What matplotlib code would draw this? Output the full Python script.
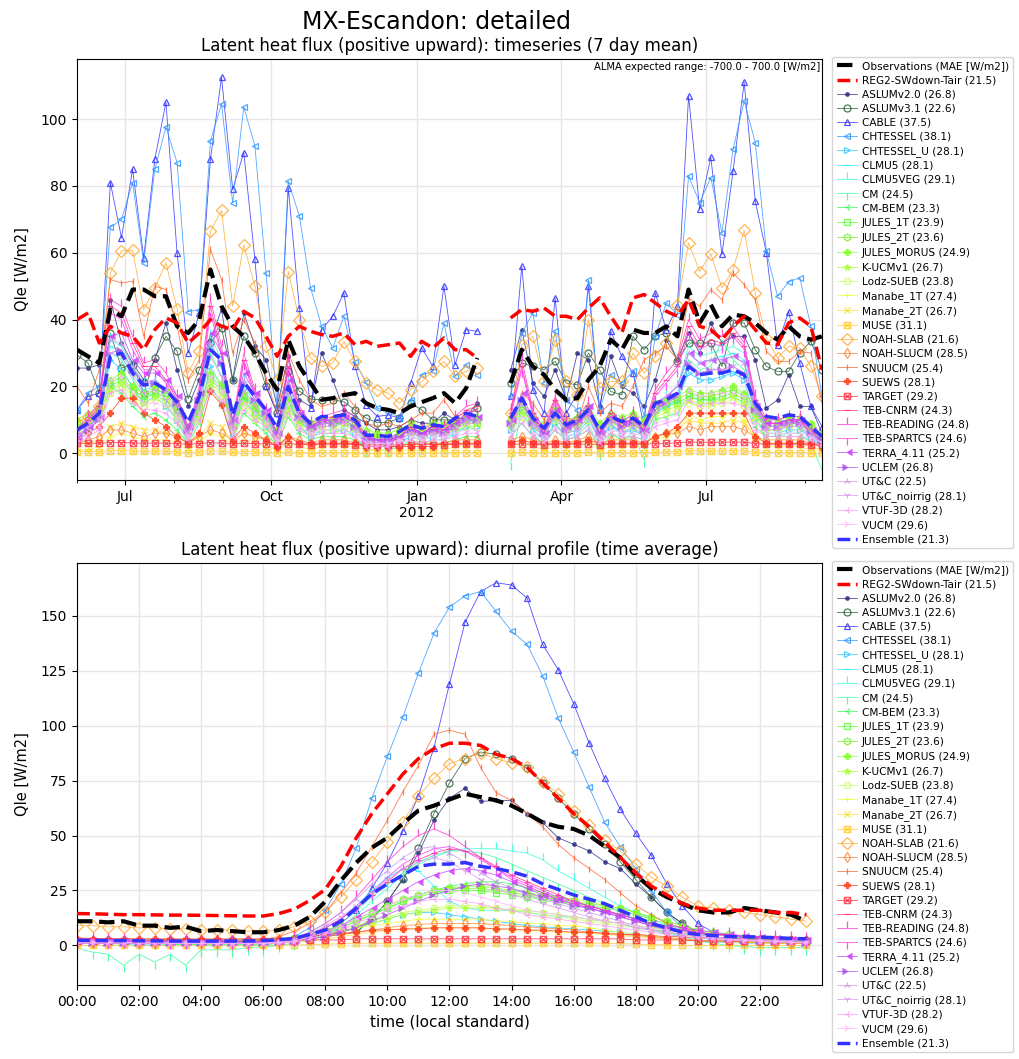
import numpy as np
import pandas as pd
import matplotlib
matplotlib.use("Agg")
from matplotlib import pyplot as plt
import matplotlib.dates as mdates
from matplotlib.path import Path
from matplotlib.ticker import FuncFormatter, MultipleLocator

# weekly means, 2011-06-01 .. 2012-09-12 (two weeks missing in Feb 2012)
weeks = pd.date_range('2011-06-01', periods=68, freq='7D')
GAP = 37
# half-hourly diurnal profile
hours = np.arange(48) / 2.0

# ---- timeseries (7 day mean), 66 values each: 37 before the gap, 29 after ----
obs_week = [31, 29, 27, 43, 41, 49, 49, 47, 47, 38,
            36, 40, 55, 44, 38, 35, 30, 24, 19, 34,
            26, 21, 16, 16.5, 17.4, 18, 15, 13.5, 13, 12,
            14, 15.3, 16.5, 18, 15, 19.5, 28.5,
            21, 31, 26, 23.5, 19, 16, 16.5, 22, 26, 34,
            31, 37, 36, 36, 38, 35, 49, 39, 44.5, 38,
            41.5, 41, 39, 36, 34, 38, 35, 34, 35]
reg2_week = [40, 42, 33, 38, 36, 35, 31, 37, 40.5, 39,
             33, 36, 40, 38, 37, 42.5, 40.5, 35, 29, 35,
             38, 36.5, 35.5, 35, 36, 32.5, 33.5, 32, 32.5, 33,
             29, 33.5, 31.5, 34.5, 31, 31, 28.5,
             40.5, 43, 42.5, 43.5, 41, 41, 40, 43.5, 46.5, 41,
             36, 46.5, 47.5, 45, 42.5, 41, 46, 38, 37, 34,
             38, 41, 37, 33, 32.5, 39, 40.5, 38, 25]
ens_week = [7, 9, 12, 29, 30, 24, 20.4, 21, 19, 15.3,
            9.3, 17, 31, 28, 11.4, 21.3, 17, 13, 7.5, 20,
            12, 9, 11, 11, 11.5, 10, 5.4, 5.4, 5, 6.5,
            8.5, 7.5, 8.5, 8, 10.5, 12, 11,
            10.5, 16.5, 10.5, 7.5, 12, 8.5, 10, 13, 7, 11,
            9.5, 10.5, 8, 15, 16, 18, 26, 23.5, 24, 24,
            25, 23.5, 15, 11, 10.5, 11.5, 11, 8, 5]
aslum2_week = [25.5, 25.5, 26.5, 46, 33, 27, 22, 28, 39, 25,
               14, 22, 34, 43, 22, 42, 32, 28, 14, 29,
               16, 14, 30, 22, 13, 11, 9, 7, 7, 8,
               10, 9, 9, 12, 10, 11, 15,
               25, 37, 21, 17, 25, 16, 30, 28, 14, 29,
               20, 18, 14, 22, 34, 28, 36, 30, 39, 33,
               35, 35, 28, 13.5, 16, 23.5, 14, 14, 6]
aslum3_week = [29.4, 27, 18, 36, 25.5, 26.5, 18, 28.6, 35, 30.5,
               16.3, 25, 33, 37.4, 22, 35, 30, 20, 12, 24.5,
               18.6, 16.2, 16, 16, 15.4, 13, 10.5, 9.2, 9.2, 10.5,
               15, 13, 10, 10, 10, 11, 13.5,
               21, 27, 26, 25, 27.5, 21, 20.5, 30, 25, 18.5,
               17.5, 35, 31, 35, 36, 27.5, 33, 33, 33, 26,
               39, 39, 31, 26, 24.5, 24.5, 30, 33.5, 25]
cable_week = [13, 17, 18, 81, 64.5, 85, 58.5, 88, 105, 60,
              30, 42, 88, 112.5, 79, 90, 58, 20, 12, 79.5,
              43.5, 13.5, 37, 41, 48, 26, 14.5, 11, 11.5, 10.5,
              21, 31.5, 26, 50, 26.5, 37, 36.5,
              17, 56, 19, 12, 46.5, 12, 18, 50, 13, 36.5,
              29, 24, 8, 48, 37, 44, 107, 73, 88.6, 59.5,
              84.4, 111, 75.4, 60, 32.4, 42.4, 27, 14, 8]
chtessel_week = [13, 18, 20, 67.6, 70, 81, 57, 85, 97.6, 87,
                 42.4, 43, 93.5, 104.5, 75, 103.6, 92, 54, 14, 81.4,
                 71, 49.6, 38, 31.5, 41, 27.4, 21.3, 13.5, 12.5, 10.7,
                 16, 23.4, 24.5, 39, 23, 26.5, 23.5,
                 17, 36, 42, 21, 36.5, 16, 13, 52, 13, 23.5,
                 21, 24.5, 11, 35, 45, 41.5, 83, 75, 82.5, 66,
                 91, 105.4, 93, 60.4, 47, 51.3, 52.5, 38, 17]
chtessel_u_week = [5, 8, 11, 28, 25, 20, 15, 17, 14, 10,
                   4, 12, 26, 20, 6, 16, 12, 8, 3, 16,
                   8, 5, 7, 7, 7, 6, 3, 3, 2, 3,
                   5, 4, 5, 5, 6, 8, 8,
                   7, 12, 7, 4, 9, 5, 6, 10, 4, 8,
                   6, 7, 5, 12, 14, 16, 24, 22, 22, 23,
                   24, 22, 10, 6, 6, 7, 7, 5, 2]
clmu5_week = [6, 9, 12, 32, 30, 24, 19, 20, 17, 12,
              5, 15, 33, 26, 7, 20, 15, 11, 4, 19,
              10, 7, 8, 8, 9, 7, 3, 3, 3, 4,
              6, 5, 6, 6, 8, 10, 9,
              8, 15, 8, 5, 11, 6, 7, 11, 4, 9,
              6, 8, 5, 14, 16, 18, 30, 27, 28, 29,
              30, 28, 13, 7, 7, 8, 8, 5, 1]
clmu5veg_week = [7, 10, 13, 34, 32, 26, 21, 22, 19, 14,
                 6, 17, 35, 28, 8, 22, 17, 12, 5, 21,
                 11, 8, 9, 9, 10, 8, 4, 3, 3, 4,
                 6, 5, 6, 6, 8, 10, 10,
                 9, 16, 9, 5, 12, 7, 8, 12, 5, 10,
                 7, 9, 6, 15, 17, 20, 32, 29, 30, 31,
                 32, 30, 14, 8, 8, 9, 9, 6, 2]
cm_week = [6, 9, 12, 30, 28, 22, 17, 18, 15, 10,
           3, 13, 30, 23, 5, 18, 13, 9, 2, 17,
           8, 5, 6, 6, 7, 5, 1, 1, 1, 2,
           4, 3, 4, 4, 6, 8, 7,
           -3, 13, 6, 2, 9, 4, 5, 9, 0, 6,
           4, 6, -2, 12, 14, 16, 28, 25, 26, 34,
           28, 25, 11, 5, 5, 6, 6, 3, -5]
cmbem_week = [4, 6, 8, 20, 18, 14, 11, 12, 10, 7,
              3, 9, 20, 15, 4, 12, 9, 6, 2, 11,
              6, 4, 5, 5, 5, 4, 2, 2, 2, 2,
              3, 3, 3, 3, 4, 5, 5,
              5, 9, 5, 3, 7, 4, 5, 7, 3, 6,
              4, 5, 4, 10, 11, 12, 17, 16, 16, 16,
              17, 15, 8, 5, 5, 5, 5, 4, 2]
jules1_week = [8, 10, 12, 20, 22, 18, 16, 18, 17, 12,
               6, 12, 22, 19, 8, 16, 12, 9, 5, 14,
               9, 7, 9, 9, 9, 8, 5, 4, 4, 5,
               7, 6, 7, 7, 8, 9, 9,
               9, 13, 9, 7, 11, 8, 9, 12, 7, 10,
               9, 10, 8, 13, 14, 15, 17, 16, 16, 17,
               18, 16, 12, 8, 8, 9, 9, 7, 4]
jules2_week = [9, 11, 13, 21, 23, 19, 17, 19, 18, 13,
               7, 13, 23, 20, 9, 17, 13, 10, 6, 15,
               10, 8, 10, 10, 10, 9, 6, 5, 5, 6,
               8, 7, 8, 8, 9, 10, 10,
               10, 14, 10, 8, 12, 9, 10, 13, 8, 11,
               10, 11, 9, 14, 15, 16, 18, 17, 17, 18,
               19, 17, 13, 9, 9, 10, 10, 8, 5]
morus_week = [10, 12, 14, 22, 24, 20, 18, 20, 19, 14,
              8, 14, 24, 21, 10, 18, 14, 11, 7, 16,
              11, 9, 10, 10, 11, 10, 7, 6, 6, 7,
              9, 8, 9, 9, 10, 11, 11,
              11, 15, 11, 9, 13, 10, 11, 14, 9, 12,
              11, 12, 10, 15, 16, 17, 19, 18, 18, 19,
              20, 18, 14, 10, 10, 11, 11, 9, 6]
kucm_week = [8, 10, 12, 19, 21, 17, 15, 17, 16, 11,
             6, 11, 21, 18, 8, 15, 11, 9, 5, 13,
             9, 7, 8, 8, 9, 8, 5, 4, 4, 5,
             7, 6, 7, 7, 8, 9, 9,
             9, 12, 9, 7, 11, 8, 9, 11, 7, 10,
             9, 9, 8, 12, 13, 14, 16, 15, 15, 16,
             17, 15, 11, 8, 8, 9, 9, 7, 4]
lodz_week = [7, 9, 11, 18, 20, 16, 14, 16, 15, 10,
             5, 10, 20, 17, 7, 14, 10, 8, 4, 12,
             8, 6, 7, 7, 8, 7, 4, 3, 3, 4,
             6, 5, 6, 6, 7, 8, 8,
             8, 11, 8, 6, 10, 7, 8, 10, 6, 9,
             8, 8, 7, 11, 12, 13, 15, 14, 14, 15,
             16, 14, 10, 7, 7, 8, 8, 6, 3]
manabe1_week = [1, 1, 2, 5, 6, 5, 4, 4, 4, 3,
                1, 3, 6, 5, 2, 4, 3, 2, 1, 3,
                2, 1, 2, 2, 2, 2, 1, 1, 1, 1,
                1, 1, 1, 1, 2, 2, 2,
                2, 3, 2, 1, 2, 2, 2, 3, 1, 2,
                2, 2, 2, 4, 5, 6, 12, 10, 11, 11,
                12, 10, 4, 2, 2, 2, 2, 1, 1]
manabe2_week = [3, 3, 4, 8, 9, 8, 7, 7, 6, 5,
                3, 5, 9, 8, 3, 6, 5, 4, 2, 5,
                3, 2, 3, 3, 3, 3, 2, 2, 2, 2,
                2, 2, 2, 2, 3, 3, 3,
                3, 4, 3, 2, 3, 3, 3, 4, 2, 3,
                3, 3, 3, 5, 6, 7, 10, 9, 9, 9,
                10, 9, 5, 3, 3, 3, 3, 2, 1]
muse_week = [0.5, 0.5, 0.5, 0.8, 0.8, 0.7, 0.6, 0.7, 0.6, 0.4,
             0.2, 0.5, 0.8, 0.6, 0.3, 0.5, 0.4, 0.3, 0.1, 0.4,
             0.2, 0.1, 0.2, 0.2, 0.2, 0.1, 0, 0, 0, 0,
             0.1, 0.1, 0.1, 0.1, 0.2, 0.2, 0.2,
             0.2, 0.3, 0.2, 0.1, 0.2, 0.2, 0.2, 0.3, 0.1, 0.2,
             0.2, 0.2, 0.2, 0.3, 0.4, 0.5, 0.8, 0.7, 0.7, 0.7,
             0.8, 0.7, 0.4, 0.2, 0.2, 0.2, 0.2, 0.1, 0]
noahslab_week = [9, 11, 14, 54, 60.6, 60.7, 43, 49.5, 57, 43.3,
                 24, 30.5, 66.5, 72.7, 44, 62.4, 50, 32, 22, 54.4,
                 40, 28.5, 26, 27, 33.4, 27.5, 21, 19, 18, 15,
                 19, 21.5, 24.5, 27.5, 23, 24.5, 25.5,
                 12, 32.4, 35, 21.5, 34, 21.5, 17.5, 40, 19.5, 21.5,
                 21.5, 30, 24, 29, 33, 44.4, 63, 54.4, 59.7, 49.5,
                 55, 66.7, 48, 34.5, 28.5, 32, 31.5, 26, 17]
noahslucm_week = [3, 4, 5, 7, 7, 6, 5, 6, 6, 5,
                  3, 5, 7, 6, 4, 6, 5, 4, 2, 5,
                  4, 3, 4, 4, 4, 3, 2, 2, 2, 2,
                  3, 3, 3, 3, 4, 4, 4,
                  4, 5, 4, 3, 4, 3, 4, 5, 3, 4,
                  4, 4, 3, 5, 6, 6, 8, 7, 8, 8,
                  8, 7, 5, 4, 4, 4, 4, 3, 2]
snuucm_week = [20, 15, 25, 52, 51, 51.5, 35, 50, 49, 38,
               22, 28, 61, 52, 30, 40, 33, 22, 12, 30,
               22, 16, 14, 15, 18, 14, 9, 8, 9, 8,
               10, 12, 12, 16, 11, 12, 13,
               8, 18, 15, 10, 16, 11, 9, 20, 12, 15,
               14, 20, 28, 30, 32, 28, 46.5, 44, 49, 46,
               54, 50.5, 46, 30.5, 27.5, 27.5, 30.5, 30, 15]
suews_week = [4, 6, 8, 12, 16.5, 16.5, 12, 10, 8, 5,
              3, 6, 18.5, 14.5, 4, 8, 6, 4, 2, 5,
              3, 3, 3, 3, 3, 3, 2, 2, 2, 2,
              2, 2, 2, 3, 3, 3, 3,
              3, 4, 3, 3, 3, 3, 3, 4, 3, 3,
              3, 3, 3, 5, 6, 8, 12, 12, 12, 12,
              12, 12, 5, 3, 3, 3, 3, 3, 2]
target_week = [3, 3, 3, 3.2, 3.2, 3.1, 3, 3.1, 3, 2.9,
               2.7, 2.9, 3.2, 3, 2.8, 3, 2.9, 2.8, 2.6, 2.9,
               2.7, 2.6, 2.7, 2.7, 2.7, 2.6, 2.5, 2.5, 2.5, 2.5,
               2.6, 2.6, 2.6, 2.6, 2.7, 2.7, 2.7,
               2.7, 2.8, 2.7, 2.6, 2.7, 2.7, 2.7, 2.8, 2.6, 2.7,
               2.7, 2.7, 2.7, 2.9, 3, 3.1, 3.4, 3.3, 3.3, 3.3,
               3.4, 3.3, 2.9, 2.7, 2.7, 2.7, 2.7, 2.6, 2.5]
teb_cnrm_week = [6, 10, 14, 44, 42, 33, 26, 26, 22, 16,
                 6, 18, 44, 30, 8, 28, 18, 12, 5, 26,
                 13, 8, 10, 11, 12, 10, 4, 4, 3, 5,
                 8, 6, 8, 7, 10, 13, 14,
                 12, 26, 12, 6, 16, 8, 10, 14, 5, 12,
                 8, 11, 7, 18, 22, 26, 38, 32, 34, 33,
                 36, 32, 16, 9, 9, 10, 10, 6, 3]
teb_reading_week = [7, 11, 15, 46, 44, 35, 27, 28, 24, 17,
                    7, 20, 46, 32, 9, 30, 19, 13, 6, 28,
                    14, 9, 11, 12, 13, 11, 5, 4, 4, 6,
                    9, 7, 9, 8, 11, 14, 15,
                    13, 28, 13, 7, 17, 9, 11, 15, 6, 13,
                    9, 12, 8, 19, 24, 28, 40, 34, 36, 35,
                    38, 33, 17, 10, 10, 11, 11, 7, 3]
teb_spartcs_week = [6, 10, 13, 42, 40, 31, 25, 25, 21, 15,
                    6, 17, 42, 29, 8, 27, 17, 12, 5, 25,
                    12, 8, 10, 10, 11, 9, 4, 4, 3, 5,
                    8, 6, 8, 7, 9, 12, 13,
                    11, 25, 11, 6, 15, 8, 9, 13, 5, 11,
                    8, 10, 7, 17, 21, 25, 36, 31, 33, 32,
                    35, 31, 15, 9, 9, 9, 10, 6, 3]
terra_week = [5, 8, 11, 35, 36, 28, 24, 24, 22, 17,
              8, 18, 36, 30, 10, 24, 18, 13, 6, 22,
              12, 8, 10, 10, 11, 9, 5, 4, 4, 5,
              7, 6, 7, 7, 9, 11, 11,
              10, 18, 10, 6, 13, 8, 10, 14, 6, 11,
              9, 10, 7, 15, 17, 20, 30, 27, 28, 28,
              29, 27, 14, 9, 9, 10, 10, 7, 4]
uclem_week = [5, 7, 10, 30, 31, 25, 21, 21, 19, 15,
              7, 16, 31, 27, 9, 21, 16, 12, 6, 19,
              11, 8, 9, 9, 10, 8, 4, 4, 4, 5,
              7, 6, 7, 6, 8, 10, 10,
              9, 16, 9, 6, 12, 7, 9, 12, 6, 10,
              8, 9, 7, 13, 15, 17, 27, 24, 25, 25,
              26, 24, 13, 8, 8, 9, 9, 6, 4]
utc_week = [6, 9, 12, 34, 33, 26, 21, 22, 19, 14,
            6, 16, 33, 27, 8, 22, 16, 12, 5, 21,
            11, 7, 9, 9, 10, 8, 4, 3, 3, 4,
            6, 5, 6, 6, 8, 10, 10,
            9, 17, 9, 5, 12, 7, 8, 12, 5, 10,
            7, 9, 6, 14, 17, 20, 30, 27, 28, 28,
            29, 27, 13, 8, 8, 9, 9, 6, 3]
utc_noirrig_week = [5, 8, 10, 30, 29, 23, 18, 19, 16, 12,
                    5, 14, 29, 23, 7, 19, 14, 10, 4, 18,
                    10, 6, 8, 8, 9, 7, 3, 3, 3, 4,
                    6, 5, 6, 5, 7, 9, 9,
                    8, 15, 8, 5, 11, 6, 7, 11, 4, 9,
                    6, 8, 5, 12, 15, 17, 27, 24, 25, 25,
                    26, 24, 12, 7, 7, 8, 8, 5, 3]
vtuf_week = [3, 5, 7, 18, 19, 15, 13, 13, 12, 9,
             4, 10, 19, 16, 5, 13, 10, 8, 3, 12,
             7, 5, 6, 6, 6, 5, 2, 2, 2, 3,
             4, 3, 4, 4, 5, 6, 6,
             5, 9, 5, 3, 7, 4, 5, 7, 3, 6,
             5, 5, 4, 8, 9, 10, 16, 14, 15, 15,
             15, 14, 7, 5, 5, 5, 5, 4, 2]
vucm_week = [4, 6, 8, 22, 23, 18, 15, 15, 14, 11,
             5, 12, 23, 19, 6, 15, 12, 9, 4, 15,
             8, 6, 7, 7, 7, 6, 3, 3, 3, 4,
             5, 4, 5, 5, 6, 7, 7,
             6, 11, 6, 4, 8, 5, 6, 8, 4, 7,
             6, 6, 5, 9, 10, 12, 19, 17, 18, 18,
             18, 17, 9, 6, 6, 6, 6, 5, 3]

# ---- diurnal profile, 48 half-hours (00:00 .. 23:30) ----
obs_diurnal = [11, 11, 10.5, 11, 9, 9, 8, 8.5, 6.5, 7, 6.5, 6,
               6, 7, 9, 13, 20, 29.5, 37.7, 44.5, 49, 55.5, 61.4, 63.6,
               66.4, 69, 67.5, 66, 63.6, 60, 56, 54, 53, 50, 45, 40,
               32, 26, 22, 19, 16, 15, 15, 17, 16, 15, 14, 11]
reg2_diurnal = [14.5, 14.4, 14.2, 14.0, 14.0, 13.9, 13.8, 13.8, 13.7, 13.6, 13.5, 13.4,
                13.4, 14.5, 16.5, 20.5, 25.5, 36, 49, 60, 69, 78, 85, 89.5,
                92, 92, 91, 87, 85, 81, 74, 67, 60, 54, 47, 40,
                33, 27, 23, 19, 17, 16, 16, 16, 16, 15, 15, 14]
ens_diurnal = [2.3, 2.3, 2.2, 2.2, 2.1, 2.1, 2, 2, 2, 2, 2, 2,
               2.2, 2.6, 3.2, 5, 7, 11, 17, 23.5, 28, 32, 36, 37,
               37, 37.7, 36, 35, 33.5, 31.5, 28, 25.5, 23, 21, 19, 16,
               13, 10, 8, 6, 5, 4.5, 4, 4, 3.8, 3.5, 3.2, 3]
aslum2_diurnal = [1.5, 1.5, 1.5, 1.5, 1.5, 1.5, 1.5, 1.5, 1.5, 1.5, 1.5, 1.5,
                  1.5, 2, 2.5, 3, 4, 5, 6, 12, 20, 30, 42, 57,
                  67, 71.5, 65.5, 66, 66, 60, 56, 49, 46, 43, 38, 35,
                  28, 22, 15, 10, 6, 4, 3, 2.5, 2, 2, 2, 1.5]
aslum3_diurnal = [2, 2, 2, 2, 2, 2, 2, 2, 2, 2, 2, 2,
                  2, 2.5, 3, 4, 5, 6.5, 8, 12, 20, 30.4, 44.5, 60,
                  74, 85, 88, 87, 85, 80.6, 74, 67, 60, 53, 46, 38,
                  30, 22, 15, 10, 6, 4, 3, 3, 2.5, 2.5, 2, 2]
cable_diurnal = [2, 2, 2, 1.5, 1.5, 1.5, 1.5, 1.5, 1.5, 1.5, 1.5, 1.5,
                 1.5, 1.5, 2, 3, 5.5, 10, 16, 26, 37.7, 52, 68, 90,
                 119, 147, 161, 165, 164, 158, 137, 125.5, 110, 92, 76, 62,
                 51, 41, 28, 18, 10, 6, 4, 3, 3, 2.5, 2, 2]
chtessel_diurnal = [1, 1, 1, 1, 1, 1, 1, 1, 1, 1, 1, 1,
                    1.5, 2, 4, 8, 16, 28, 44.5, 67, 86, 104, 124, 142,
                    154, 159, 161, 152, 143, 137, 122.7, 103.6, 88, 72, 56, 45,
                    35, 25, 15, 8, 4, 3, 2, 2, 1.5, 1.5, 1, 1]
chtessel_u_diurnal = [1, 1, 1, 1, 1, 1, 1, 1, 1, 1, 1, 1,
                      1, 1.5, 2, 3, 4, 6, 8, 10, 12, 14, 15, 15,
                      14, 13, 12, 11, 10, 9, 8.5, 8, 7.5, 7, 6.5, 6,
                      5, 4, 3, 2.5, 2, 1.5, 1.5, 1, 1, 1, 1, 1]
clmu5_diurnal = [2, 2, 2, 2, 1.5, 1.5, 1.5, 1.5, 1.5, 1.5, 1.5, 1.5,
                 1.5, 2, 3, 5, 8, 12, 18, 25, 31, 35, 34, 27,
                 20, 17, 16, 16, 16, 15, 14, 13, 13, 12, 11, 10,
                 8, 7, 5, 4, 3, 3, 2.5, 2.5, 2, 2, 2, 2]
clmu5veg_diurnal = [1, 1, 1, 0.5, 0.5, 0.5, 0.5, 0.5, 0, 0, 0, 0,
                    0, 1, 2, 3, 5, 8, 14, 20, 26, 32, 37, 40,
                    43, 44, 44, 44, 43, 42, 39, 34, 30, 26, 22, 18,
                    15, 12, 9, 7, 5, 4, 3, 2, 2, 1.5, 1, 1]
cm_diurnal = [-1, -3, -4, -9, -4, -7.5, -4, -9, -2, -2, -2, -1,
              -1, 0, 1, 3, 6, 10, 16, 22, 28, 33, 38, 41,
              43, 43, 42, 40, 37, 34, 31, 28, 25, 22, 19, 15,
              12, 9, 6, 4, 2, 1, 0, -0.5, -1, -1, -1, -1]
cmbem_diurnal = [1, 1, 1, 1, 1, 1, 0.5, 0.5, 0.5, 0.5, 0.5, 0.5,
                 0.5, 1, 1.5, 3, 5, 8, 11, 14, 17, 20, 23, 25,
                 27, 28, 29, 29, 28, 26, 24, 22, 20, 18, 16, 14,
                 12, 10, 8, 6, 5, 4, 3, 2.5, 2, 1.5, 1.5, 1]
jules1_diurnal = [2, 2, 2, 2, 2, 2, 2, 2, 2, 2, 2, 2,
                  2, 2.5, 3, 4, 6, 8, 11, 14, 17, 20, 22, 24,
                  25, 25, 25, 24, 23, 22, 21, 20, 19, 18, 17, 16,
                  14, 12, 10, 8, 6, 5, 4, 3.5, 3, 2.5, 2.5, 2]
jules2_diurnal = [2.5, 2.5, 2.5, 2.5, 2.5, 2.5, 2.5, 2.5, 2.5, 2.5, 2.5, 2.5,
                  2.5, 3, 3.5, 5, 7, 9, 12, 15, 18, 21, 23, 25,
                  26, 26, 26, 25, 24, 23, 22, 21, 20, 19, 18, 17,
                  15, 13, 11, 9, 7, 6, 5, 4, 3.5, 3, 3, 2.5]
morus_diurnal = [1.5, 1.5, 1.5, 1.5, 1.5, 1.5, 1.5, 1.5, 1.5, 1.5, 1.5, 1.5,
                 1.5, 2, 3, 4, 6, 9, 12, 15, 18, 21, 23, 25,
                 26, 27, 27, 26, 25, 24, 23, 22, 21, 20, 18, 17,
                 15, 13, 11, 9, 7, 5, 4, 3, 2.5, 2, 2, 1.5]
kucm_diurnal = [1, 1, 1, 1, 1, 1, 1, 1, 1, 1, 1, 1,
                1, 1.5, 2, 3, 4, 6, 8, 10, 12, 14, 15, 16,
                17, 17, 17, 17, 16, 16, 15, 14, 13, 12, 11, 10,
                9, 8, 6, 5, 4, 3, 2.5, 2, 1.5, 1.5, 1, 1]
lodz_diurnal = [1, 1, 1, 1, 1, 1, 1, 1, 1, 1, 1, 1,
                1, 1.5, 2, 3, 5, 7, 9, 11, 13, 15, 16, 17,
                18, 18, 18, 17, 16, 15, 14, 13, 12, 11, 10, 9,
                8, 7, 6, 5, 4, 3, 2.5, 2, 1.5, 1.5, 1, 1]
manabe1_diurnal = [1, 1, 1, 1, 1, 1, 1, 1, 1, 1, 1, 1,
                   1, 1.5, 2, 3, 4, 6, 8, 9, 10, 11, 12, 12,
                   12, 12, 12, 11, 11, 10, 10, 9, 9, 8, 7, 6,
                   5, 4, 3.5, 3, 2.5, 2, 2, 1.5, 1.5, 1, 1, 1]
manabe2_diurnal = [1, 1, 1, 1, 1, 1, 1, 1, 1, 1, 1, 1,
                   1, 1, 1.5, 2, 3, 4, 5, 6, 7, 7.5, 8, 8,
                   8, 8, 8, 7.5, 7, 7, 6.5, 6, 6, 5.5, 5, 4.5,
                   4, 3.5, 3, 2.5, 2, 2, 1.5, 1.5, 1, 1, 1, 1]
muse_diurnal = [0, 0, 0, 0, 0, 0, 0, 0, 0, 0, 0, 0,
                0, 0, 0.2, 0.4, 0.6, 0.8, 1, 1, 1, 1, 1, 1,
                1, 1, 1, 1, 1, 1, 1, 1, 1, 1, 1, 0.8,
                0.6, 0.4, 0.2, 0, 0, 0, 0, 0, 0, 0, 0, 0]
noahslab_diurnal = [9, 9, 8.5, 8.5, 8, 8, 7.5, 7.5, 7, 7, 7, 6.5,
                    6.5, 7, 8.5, 11, 15.4, 22, 30, 38, 47, 56, 68, 76,
                    82.7, 85, 87.6, 85, 83, 81, 74.5, 69, 61, 55, 48, 43,
                    37, 31, 27, 22, 18, 17, 16, 15, 14, 13, 12, 11]
noahslucm_diurnal = [1, 1, 1, 1, 1, 1, 1, 1, 1, 1, 1, 1,
                     1, 1.5, 2, 3, 4, 5, 6, 7, 8, 9, 9.5, 10,
                     10, 10, 10, 9.5, 9, 8.5, 8, 7.5, 7, 6, 5.5, 5,
                     4.5, 4, 3.5, 3, 2.5, 2, 2, 1.5, 1.5, 1, 1, 1]
snuucm_diurnal = [3.5, 3.2, 3, 3, 2.8, 2.8, 2.6, 2.6, 2.5, 2.5, 2.5, 2.5,
                  2.8, 4, 6.5, 10, 15, 24, 33, 45, 57, 70, 82, 96,
                  98, 96, 81, 69.5, 66, 60, 54, 46, 40, 35, 30, 24,
                  18, 14, 10, 8, 6, 5, 4.5, 4, 4, 4, 3.5, 3.5]
suews_diurnal = [3, 3, 3, 3, 3, 3, 3, 3, 3, 3, 3, 3,
                 3, 3, 3.5, 4, 5, 5.5, 6, 7, 7, 7.5, 7.5, 8,
                 8, 8, 8, 7.5, 7.5, 7, 7, 6.5, 6, 6, 5.5, 5,
                 5, 4.5, 4, 4, 3.5, 3.5, 3.5, 3, 3, 3, 3, 3]
target_diurnal = [2, 2, 2, 2, 2, 2, 2, 2, 2, 2, 2, 2,
                  2, 2, 2, 2.5, 2.5, 2.5, 3, 3, 3, 3, 3, 3,
                  3, 3, 3, 3, 3, 3, 3, 3, 3, 3, 3, 3,
                  2.5, 2.5, 2.5, 2.5, 2, 2, 2, 2, 2, 2, 2, 2]
teb_cnrm_diurnal = [3, 2.5, 2.5, 2, 2, 2, 2, 2, 1.5, 1.5, 1.5, 1.5,
                    1.5, 2, 3, 5, 8, 12, 17, 23, 29, 35, 39, 42,
                    44, 43, 40, 36, 32, 29, 26, 23, 20, 18, 16, 14,
                    12, 10, 8, 7, 6, 5, 5, 4, 4, 3.5, 3.5, 3]
teb_reading_diurnal = [3, 3, 2.5, 2.5, 2, 2, 2, 2, 2, 2, 1.5, 1.5,
                       1.5, 2, 3.5, 6, 10, 15, 22, 30, 38, 45, 50, 53,
                       50, 45, 40, 35, 30, 27, 24, 21, 19, 17, 15, 13,
                       11, 9, 8, 7, 6, 5, 5, 4, 4, 4, 3.5, 3]
teb_spartcs_diurnal = [2.5, 2.5, 2, 2, 2, 1.5, 1.5, 1.5, 1.5, 1.5, 1, 1,
                       1, 1.5, 3, 5, 8, 12, 18, 24, 31, 37, 41, 44,
                       45, 43, 39, 35, 31, 28, 25, 22, 20, 18, 16, 14,
                       12, 10, 8, 7, 6, 5, 4.5, 4, 3.5, 3, 3, 2.5]
terra_diurnal = [2, 2, 2, 2, 1.5, 1.5, 1.5, 1.5, 1.5, 1.5, 1.5, 1.5,
                 1.5, 2, 2.5, 4, 6, 9, 13, 17, 21, 25, 29, 32,
                 34, 35, 34, 32, 29, 26, 23, 21, 19, 17, 15, 14,
                 12, 10, 9, 8, 7, 6, 5, 4.5, 4, 3.5, 3, 2.5]
uclem_diurnal = [1, 1, 1, 1, 1, 1, 1, 1, 1, 1, 1, 1,
                 1, 1.5, 2, 3, 4, 6, 8, 11, 14, 17, 20, 23,
                 25, 27, 28, 27, 26, 24, 22, 20, 18, 17, 15, 13,
                 11, 9, 7, 6, 5, 4, 3, 2.5, 2, 1.5, 1.5, 1]
utc_diurnal = [2, 2, 2, 1.5, 1.5, 1.5, 1.5, 1.5, 1.5, 1, 1, 1,
               1, 1.5, 3, 6, 10, 15, 21, 28, 34, 40, 44, 45,
               42, 38, 33, 29, 26, 23, 21, 19, 17, 15, 13, 11,
               9, 7, 6, 5, 4, 3.5, 3, 3, 2.5, 2.5, 2, 2]
utc_noirrig_diurnal = [1.5, 1.5, 1.5, 1.5, 1, 1, 1, 1, 1, 1, 1, 1,
                       1, 1.5, 2.5, 5, 9, 13, 18, 24, 30, 35, 38, 40,
                       38, 34, 30, 26, 23, 21, 19, 17, 15, 13, 11, 10,
                       8, 7, 6, 5, 4, 3.5, 3, 2.5, 2, 2, 1.5, 1.5]
vtuf_diurnal = [1, 1, 1, 1, 1, 1, 1, 1, 1, 1, 1, 1,
                1, 1, 1.5, 3, 5, 7, 10, 13, 16, 18, 20, 21,
                21, 20, 19, 17, 16, 14, 13, 12, 11, 10, 9, 8,
                7, 6, 5, 4, 3.5, 3, 2.5, 2, 2, 1.5, 1.5, 1]
vucm_diurnal = [1.5, 1.5, 1.5, 1.5, 1.5, 1.5, 1, 1, 1, 1, 1, 1,
                1, 1.5, 2, 4, 6, 9, 12, 15, 18, 21, 23, 25,
                25, 24, 22, 20, 18, 16, 15, 14, 13, 12, 11, 10,
                9, 8, 7, 6, 5, 4, 3, 2.5, 2, 2, 1.5, 1.5]

# open square with a cross in it
BOXX = Path([(-1, -1), (1, -1), (1, 1), (-1, 1), (-1, -1), (-1, -1), (1, 1), (-1, 1), (1, -1)],
            [Path.MOVETO, Path.LINETO, Path.LINETO, Path.LINETO, Path.CLOSEPOLY,
             Path.MOVETO, Path.LINETO, Path.MOVETO, Path.LINETO])
# name, MAE, colour, marker, filled, weekly, diurnal
models = [
    ('ASLUMv2.0', 26.8, '#333388', '.', True, aslum2_week, aslum2_diurnal),
    ('ASLUMv3.1', 22.6, '#2d5e3e', 'o', False, aslum3_week, aslum3_diurnal),
    ('CABLE', 37.5, '#3333ff', '^', False, cable_week, cable_diurnal),
    ('CHTESSEL', 38.1, '#3399ff', '<', False, chtessel_week, chtessel_diurnal),
    ('CHTESSEL_U', 28.1, '#33ccff', '>', False, chtessel_u_week, chtessel_u_diurnal),
    ('CLMU5', 28.1, '#33eeff', '_', True, clmu5_week, clmu5_diurnal),
    ('CLMU5VEG', 29.1, '#33ffdd', 2, True, clmu5veg_week, clmu5veg_diurnal),
    ('CM', 24.5, '#33ff99', 3, True, cm_week, cm_diurnal),
    ('CM-BEM', 23.3, '#33ff55', '3', True, cmbem_week, cmbem_diurnal),
    ('JULES_1T', 23.9, '#55ff33', 's', False, jules1_week, jules1_diurnal),
    ('JULES_2T', 23.6, '#77ee33', 'h', False, jules2_week, jules2_diurnal),
    ('JULES_MORUS', 24.9, '#88ff33', 'P', True, morus_week, morus_diurnal),
    ('K-UCMv1', 26.7, '#aaff33', '*', True, kucm_week, kucm_diurnal),
    ('Lodz-SUEB', 23.8, '#ccff66', 'H', False, lodz_week, lodz_diurnal),
    ('Manabe_1T', 27.4, '#eeff33', '+', True, manabe1_week, manabe1_diurnal),
    ('Manabe_2T', 26.7, '#ffdd33', 'x', True, manabe2_week, manabe2_diurnal),
    ('MUSE', 31.1, '#ffcc33', BOXX, False, muse_week, muse_diurnal),
    ('NOAH-SLAB', 21.6, '#ffaa33', 'D', False, noahslab_week, noahslab_diurnal),
    ('NOAH-SLUCM', 28.5, '#ff8833', 'd', False, noahslucm_week, noahslucm_diurnal),
    ('SNUUCM', 25.4, '#ff6633', '|', True, snuucm_week, snuucm_diurnal),
    ('SUEWS', 28.1, '#ff4422', 'P', True, suews_week, suews_diurnal),
    ('TARGET', 29.2, '#ff3344', BOXX, False, target_week, target_diurnal),
    ('TEB-CNRM', 24.3, '#ff3388', '_', True, teb_cnrm_week, teb_cnrm_diurnal),
    ('TEB-READING', 24.8, '#ff33cc', 2, True, teb_reading_week, teb_reading_diurnal),
    ('TEB-SPARTCS', 24.6, '#ff33ff', 3, True, teb_spartcs_week, teb_spartcs_diurnal),
    ('TERRA_4.11', 25.2, '#cc44ff', 4, True, terra_week, terra_diurnal),
    ('UCLEM', 26.8, '#aa55ee', 5, True, uclem_week, uclem_diurnal),
    ('UT&C', 22.5, '#cc99ee', '2', True, utc_week, utc_diurnal),
    ('UT&C_noirrig', 28.1, '#dd99ee', '1', True, utc_noirrig_week, utc_noirrig_diurnal),
    ('VTUF-3D', 28.2, '#ff99ff', '3', True, vtuf_week, vtuf_diurnal),
    ('VUCM', 29.6, '#ffbbff', '4', True, vucm_week, vucm_diurnal),
]


def with_gap(vals):
    return np.array(list(vals[:GAP]) + [np.nan, np.nan] + list(vals[GAP:]), dtype=float)


fig = plt.figure(figsize=(10.2, 10.59), dpi=100)
ax1 = fig.add_axes([77 / 1020, 1 - 480 / 1059, 745 / 1020, 421 / 1059])
ax2 = fig.add_axes([77 / 1020, 1 - 985 / 1059, 745 / 1020, 422 / 1059])

for ax, x, obs, reg2, ens in [(ax1, weeks, with_gap(obs_week), with_gap(reg2_week), with_gap(ens_week)),
                              (ax2, hours, obs_diurnal, reg2_diurnal, ens_diurnal)]:
    ax.plot(x, obs, color='k', ls='--', lw=3, label='Observations (MAE [W/m2])', zorder=4)
    ax.plot(x, reg2, color='red', ls='--', lw=2.5, label='REG2-SWdown-Tair (21.5)', zorder=4)
    for name, mae, c, m, filled, wk, di in models:
        vals = with_gap(wk) if ax is ax1 else di
        ms = 6 if isinstance(m, str) and m == 'D' else 5
        if isinstance(m, Path):
            ms = 4.5
        kw = dict(color=c, marker=m, lw=0.6, ms=ms, mew=0.9, alpha=0.85)
        if not filled:
            kw['mfc'] = 'none'
        ax.plot(x, vals, label='%s (%.1f)' % (name, mae), **kw)
    ax.plot(x, ens, color='#3333ff', ls='--', lw=2.5, label='Ensemble (21.3)', zorder=4)
    ax.grid(True, color='#e6e6e6', lw=1)
    ax.set_axisbelow(True)
    ax.set_ylabel('Qle [W/m2]', fontsize=10.5, labelpad=8)
    ax.legend(loc='upper left', bbox_to_anchor=(1.014, 1.005), fontsize=7.6,
              labelspacing=0.39, borderaxespad=0, handlelength=1.9, handletextpad=0.5)

# top panel: weekly timeseries
ax1.set_title('Latent heat flux (positive upward): timeseries (7 day mean)', fontsize=12)
ax1.set_xlim(weeks[0], weeks[-1])
ax1.set_ylim(-8, 118)
ax1.yaxis.set_major_locator(MultipleLocator(20))
ax1.xaxis.set_major_locator(mdates.MonthLocator(bymonth=[1, 4, 7, 10]))
ax1.xaxis.set_minor_locator(mdates.MonthLocator())


def month_fmt(x, pos):
    d = mdates.num2date(x)
    return d.strftime('%b\n%Y') if d.month == 1 else d.strftime('%b')


ax1.xaxis.set_major_formatter(FuncFormatter(month_fmt))
ax1.xaxis.set_minor_formatter(FuncFormatter(lambda x, pos: ''))
ax1.text(0.997, 0.993, 'ALMA expected range: -700.0 - 700.0 [W/m2]', transform=ax1.transAxes,
         ha='right', va='top', fontsize=7.2)

# bottom panel: diurnal profile
ax2.set_title('Latent heat flux (positive upward): diurnal profile (time average)', fontsize=12)
ax2.set_xlim(0, 24)
ax2.set_ylim(-18, 174)
ax2.yaxis.set_major_locator(MultipleLocator(25))
ax2.set_xticks(np.arange(0, 24, 2))
ax2.xaxis.set_major_formatter(FuncFormatter(lambda x, pos: '%02d:00' % int(round(x))))
ax2.set_xlabel('time (local standard)', fontsize=11)

fig.text(0.428, 0.979, 'MX-Escandon: detailed', ha='center', va='center', fontsize=17)

fig.savefig('out.png', dpi=100)
